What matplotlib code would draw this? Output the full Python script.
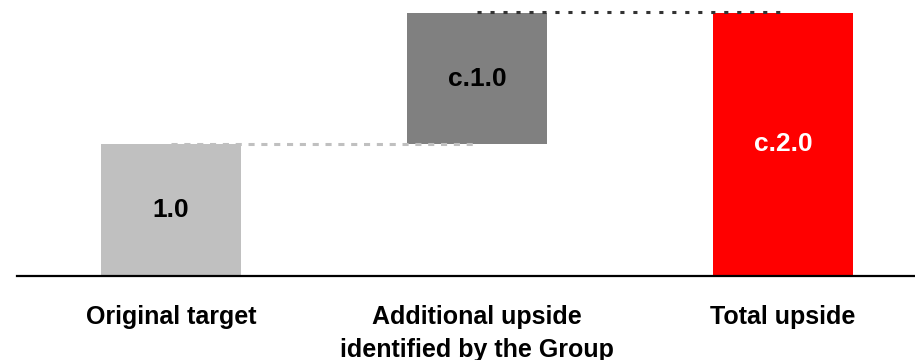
import matplotlib.pyplot as plt

plt.rcParams["font.family"] = ["Liberation Sans", "DejaVu Sans"]

categories = ["Original target", "Additional upside\nidentified by the Group", "Total upside"]
bar_values = [1.0, 1.0, 2.0]
bar_labels = ["1.0", "c.1.0", "c.2.0"]
bar_colors = ["#c0c0c0", "#808080", "#ff0000"]
label_colors = ["#000000", "#000000", "#ffffff"]


def main():
	fig = plt.figure(figsize=(9.15, 3.6), dpi=100)
	ax = fig.add_axes([17 / 915, 84 / 360, 898 / 915, 269.6 / 360])

	# waterfall: each step starts where the previous one ended, the total starts at zero
	bottoms = [0.0, bar_values[0], 0.0]
	x = list(range(len(categories)))
	ax.bar(x, bar_values, bottom=bottoms, width=0.455, color=bar_colors, zorder=2)

	for xi, v, b, txt, c in zip(x, bar_values, bottoms, bar_labels, label_colors):
		ax.text(xi, b + v / 2, txt, ha="center", va="center", fontsize=19,
				fontweight="bold", color=c, zorder=4)

	# connectors between bar tops
	top1 = bottoms[0] + bar_values[0]
	top2 = bottoms[1] + bar_values[1]
	ax.plot([0, 1], [top1, top1], color="#c0c0c0", lw=2.2,
			linestyle=(0, (2.0, 2.2)), dash_capstyle="butt", zorder=3)
	ax.plot([1, 2], [top2 + 0.005, top2 + 0.005], color="#333333", lw=2.2,
			linestyle=(0, (1.35, 2.9)), dash_capstyle="butt", zorder=3)

	ax.axhline(0, color="black", lw=1.6, zorder=5, clip_on=False)

	ax.set_xlim(-0.503, 2.431)
	ax.set_ylim(0, 2.05)
	ax.set_xticks(x)
	ax.set_xticklabels(categories, fontsize=18, fontweight="bold", linespacing=1.45)
	ax.tick_params(axis="x", length=0, pad=21)
	ax.set_yticks([])
	for side in ["top", "right", "left", "bottom"]:
		ax.spines[side].set_visible(False)

	fig.savefig("out.png", dpi=100)


if __name__ == "__main__":
	main()
